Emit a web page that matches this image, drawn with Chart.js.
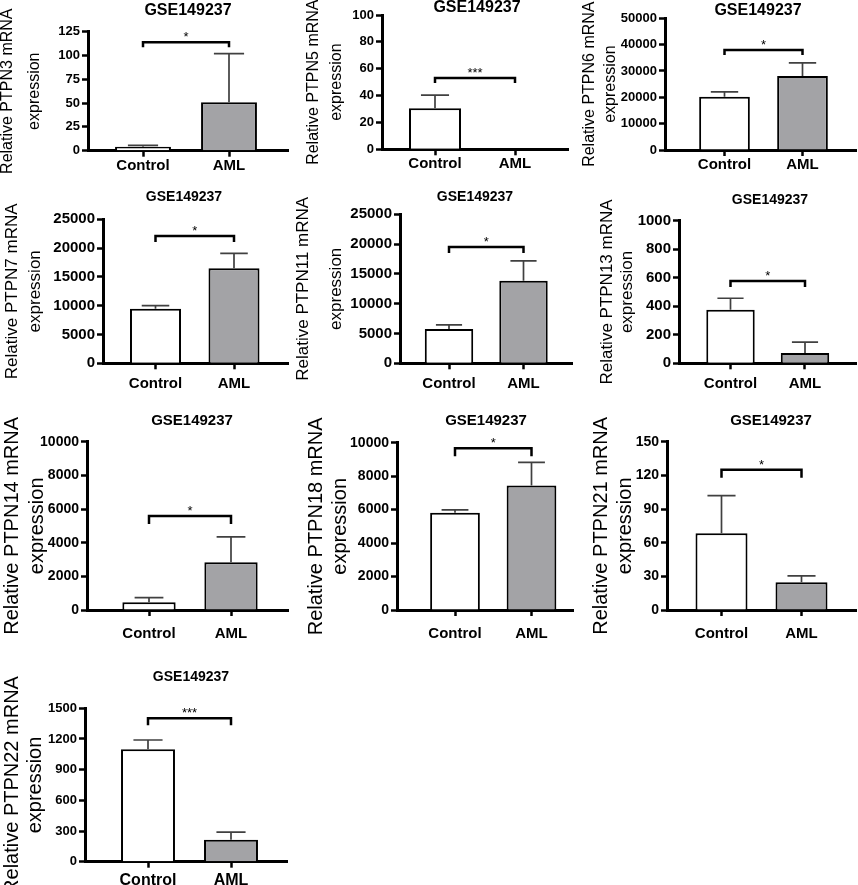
<!DOCTYPE html>
<html>
<head>
<meta charset="utf-8">
<script src="https://cdn.jsdelivr.net/npm/chart.js@4.4.1/dist/chart.umd.min.js"></script>
<style>
  html, body { margin: 0; padding: 0; background: #fff; }
  body { width: 858px; height: 885px; position: relative; overflow: hidden; }
  canvas { position: absolute; }
</style>
</head>
<body>
<script>
// values
const genes = ['PTPN3', 'PTPN5', 'PTPN6', 'PTPN7', 'PTPN11', 'PTPN13', 'PTPN14', 'PTPN18', 'PTPN21', 'PTPN22'];
const groups = ['Control', 'AML'];
const dataset = 'GSE149237';
const controlMean = [4.2, 30.5, 20200, 9450, 5750, 375, 460, 5820, 68.5, 1100];
const controlUpper = [5.6, 40.4, 22100, 10000, 6450, 456, 730, 5980, 102, 1190];
const amlMean = [50.8, 0, 28100, 16500, 13850, 72, 2840, 7440, 24.8, 215];
const amlUpper = [102, 0, 33100, 19100, 17200, 148, 4350, 8820, 30.5, 290];
const yMax = [125, 100, 50000, 25000, 25000, 1000, 10000, 10000, 150, 1500];
const yStep = [25, 20, 10000, 5000, 5000, 200, 2000, 2000, 30, 300];
const sigText = ['*', '***', '*', '*', '*', '*', '*', '*', '*', '***'];
const sigLevel = [114, 53, 38000, 22100, 19500, 577, 5590, 9670, 125, 1403];

const FONT = "'Liberation Sans', Arial, Helvetica, sans-serif";

// page layout (pixels)
const cols = [0, 285, 570];
const rows = [
  { top: 0,   h: 178, tick: 13, xlab: 15, title: 16, ylab: 16, leg: 5, xPad: 0 },
  { top: 180, h: 212, tick: 15, xlab: 15, title: 14, ylab: 17, leg: 6, xPad: 6 },
  { top: 400, h: 248, tick: 14, xlab: 15, title: 15, ylab: 20, leg: 8, xPad: 9 },
  { top: 655, h: 230, tick: 13, xlab: 16, title: 14, ylab: 20, leg: 7, xPad: 3 }
];
// L,R = axis span; T,B = pixel of max / zero; c1,c2 = bar centres; tx,ty = title; lab1,lab2 = y-title lines
const panels = [
  { row: 0, col: 0, L: 88,  R: 288, T: 31.7,  B: 150.7, c1: 143,   c2: 229,   tx: 188, ty: 11,    lab1: 8,    lab2: 35 },
  { row: 0, col: 1, L: 382, R: 568, T: 15,    B: 149.3, c1: 435,   c2: 515,   tx: 477, ty: 8,     lab1: 314,  lab2: 337 },
  { row: 0, col: 2, L: 665, R: 856, T: 18.3,  B: 150,   c1: 724.5, c2: 802.5, tx: 758, ty: 11,    lab1: 590,  lab2: 611 },
  { row: 1, col: 0, L: 103, R: 288, T: 219.3, B: 363.3, c1: 155.5, c2: 234,   tx: 184, ty: 197.5, lab1: 12,   lab2: 35 },
  { row: 1, col: 1, L: 400, R: 572, T: 214.3, B: 363.3, c1: 449,   c2: 523.5, tx: 475, ty: 197.5, lab1: 303,  lab2: 336 },
  { row: 1, col: 2, L: 679, R: 856, T: 220.7, B: 363.3, c1: 730.5, c2: 805,   tx: 770, ty: 200,   lab1: 607,  lab2: 627 },
  { row: 2, col: 0, L: 87,  R: 288, T: 441.7, B: 610,   c1: 149,   c2: 231,   tx: 192, ty: 421,   lab1: 12.5, lab2: 37 },
  { row: 2, col: 1, L: 397, R: 573, T: 442.7, B: 610,   c1: 455,   c2: 531.5, tx: 486, ty: 421,   lab1: 316,  lab2: 340 },
  { row: 2, col: 2, L: 667, R: 856, T: 441.7, B: 610,   c1: 721.5, c2: 801.5, tx: 771, ty: 421,   lab1: 601,  lab2: 625 },
  { row: 3, col: 0, L: 85,  R: 287, T: 708.3, B: 861.7, c1: 148,   c2: 231,   tx: 191, ty: 677,   lab1: 12.5, lab2: 35 }
];

// error bars, significance bracket and panel title
const marks = {
  id: 'marks',
  afterDatasetsDraw(chart, args, opts) {
    const { ctx, scales: { x, y } } = chart;
    const i = opts.index;
    const p = panels[i];
    const row = rows[p.row];
    const bars = chart.getDatasetMeta(0).data;
    const means = [controlMean[i], amlMean[i]];
    const uppers = [controlUpper[i], amlUpper[i]];
    ctx.save();
    ctx.strokeStyle = '#404040';
    ctx.lineWidth = 1.7;
    bars.forEach((bar, k) => {
      if (uppers[k] <= means[k]) return;
      const yTop = y.getPixelForValue(uppers[k]);
      const half = bar.width * 0.27;
      ctx.beginPath();
      ctx.moveTo(bar.x, bar.y);
      ctx.lineTo(bar.x, yTop);
      ctx.moveTo(bar.x - half, yTop);
      ctx.lineTo(bar.x + half, yTop);
      ctx.stroke();
    });

    const by = y.getPixelForValue(sigLevel[i]);
    const x1 = x.getPixelForValue(1);
    const x2 = x.getPixelForValue(2);
    ctx.strokeStyle = '#000';
    ctx.lineWidth = 2.5;
    ctx.beginPath();
    ctx.moveTo(x1, by + row.leg);
    ctx.lineTo(x1, by);
    ctx.lineTo(x2, by);
    ctx.lineTo(x2, by + row.leg);
    ctx.stroke();

    ctx.fillStyle = '#000';
    ctx.textAlign = 'center';
    ctx.font = `13px ${FONT}`;
    ctx.textBaseline = 'alphabetic';
    ctx.fillText(sigText[i], (x1 + x2) / 2, by - 1);

    ctx.font = `bold ${row.title}px ${FONT}`;
    ctx.textBaseline = 'middle';
    ctx.fillText(dataset, p.tx - opts.cx, p.ty - opts.cy);
    ctx.restore();
  }
};

genes.forEach((gene, i) => {
  const p = panels[i];
  const row = rows[p.row];
  const cx = cols[p.col] - 20;
  const cy = row.top;
  const cw = p.R + 4 - cx;
  const ch = row.h;
  const span = p.c2 - p.c1;
  const lh = p.lab2 - p.lab1;

  const canvas = document.createElement('canvas');
  canvas.width = cw;
  canvas.height = ch;
  canvas.style.left = cx + 'px';
  canvas.style.top = cy + 'px';
  document.body.appendChild(canvas);

  new Chart(canvas, {
    type: 'bar',
    data: {
      datasets: [{
        data: [{ x: 1, y: controlMean[i] }, { x: 2, y: amlMean[i] }],
        backgroundColor: ['#ffffff', '#a3a3a6'],
        borderColor: '#000',
        borderWidth: 2,
        barPercentage: 0.65,
        categoryPercentage: 1
      }]
    },
    options: {
      responsive: false,
      animation: false,
      devicePixelRatio: 1,
      layout: { padding: { left: 0, right: 4, top: p.T - cy, bottom: 0 } },
      plugins: {
        legend: { display: false },
        tooltip: { enabled: false },
        marks: { index: i, cx: cx, cy: cy }
      },
      scales: {
        x: {
          type: 'linear',
          offset: false,
          min: 1 - (p.c1 - p.L) / span,
          max: 2 + (p.R - p.c2) / span,
          afterBuildTicks: s => { s.ticks = [{ value: 1 }, { value: 2 }]; },
          afterFit: s => { s.height = cy + ch - p.B; },
          ticks: {
            callback: v => groups[v - 1],
            font: { family: FONT, size: row.xlab, weight: 'bold' },
            color: '#000',
            padding: row.xPad,
            maxRotation: 0,
            autoSkip: false
          },
          grid: { offset: false, drawOnChartArea: false, color: '#000', tickLength: 6, tickWidth: 2.5 },
          border: { color: '#000', width: 3 }
        },
        y: {
          min: 0,
          max: yMax[i],
          afterFit: s => { s.width = p.L - cx; },
          ticks: {
            stepSize: yStep[i],
            callback: v => String(v),
            font: { family: FONT, size: row.tick, weight: 'bold' },
            color: '#000',
            padding: 2
          },
          grid: { drawOnChartArea: false, color: '#000', tickLength: 6, tickWidth: 2.5 },
          border: { color: '#000', width: 3 },
          title: {
            display: true,
            text: ['Relative ' + gene + ' mRNA', 'expression'],
            font: { family: FONT, size: row.ylab, lineHeight: lh + 'px' },
            color: '#000',
            padding: { top: p.lab1 - cx - lh / 2, bottom: 0 }
          }
        }
      }
    },
    plugins: [marks]
  });
});
</script>
</body>
</html>
